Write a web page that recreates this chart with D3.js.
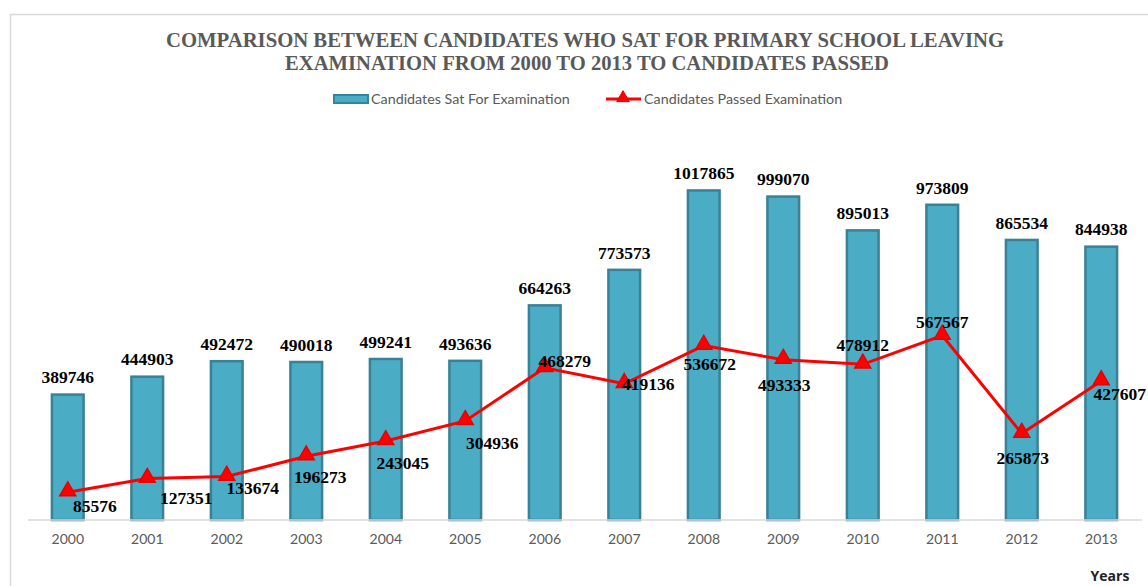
<!DOCTYPE html>
<html><head><meta charset="utf-8">
<script src="https://cdn.jsdelivr.net/npm/d3@7"></script>
<style>html,body{margin:0;padding:0;background:#fff;overflow:hidden}</style>
</head><body>
<svg id="chart" width="1148" height="586"></svg>
<script>
const years = ["2000","2001","2002","2003","2004","2005","2006","2007","2008","2009","2010","2011","2012","2013"];
const sat = [389746,444903,492472,490018,499241,493636,664263,773573,1017865,999070,895013,973809,865534,844938];
const passed = [85576,127351,133674,196273,243045,304936,468279,419136,536672,493333,478912,567567,265873,427607];
const seriesNames = ["Candidates Sat For Examination","Candidates Passed Examination"];
const titleLines = ["COMPARISON BETWEEN CANDIDATES WHO  SAT FOR PRIMARY SCHOOL  LEAVING","EXAMINATION  FROM 2000 TO 2013 TO CANDIDATES PASSED"];
const xAxisTitle = "Years";
// label placement offsets for line labels (layout only)
const lineLabelOffsets = [[27,14],[39,19],[26,11],[14,21],[17,22],[27,22],[20,-7],[24,0],[6,18],[1,25],[0,-19],[0,-14],[1,24],[null,13]];

const svg = d3.select("#chart");
// chart border
svg.append("path").attr("d","M10.5,586 V14.5 H1148").attr("fill","none").attr("stroke","#d9d9d9").attr("stroke-width",1.5);

const x = d3.scaleBand().domain(years).range([28,1141]).paddingInner(0.57).paddingOuter(0.285);
const y = d3.scaleLinear().domain([0,1200000]).range([520,130]);

// title
svg.append("text").attr("x",585).attr("y",47).attr("text-anchor","middle")
  .attr("font-family","Liberation Serif").attr("font-weight","bold").attr("font-size",20)
  .attr("fill","#595959").attr("textLength",838).attr("lengthAdjust","spacingAndGlyphs").text(titleLines[0]);
svg.append("text").attr("x",587).attr("y",70).attr("text-anchor","middle")
  .attr("font-family","Liberation Serif").attr("font-weight","bold").attr("font-size",20)
  .attr("fill","#595959").attr("textLength",604).attr("lengthAdjust","spacingAndGlyphs").text(titleLines[1]);

// legend
const lg = svg.append("g");
lg.append("rect").attr("x",334).attr("y",95).attr("width",34).attr("height",8)
  .attr("fill","#4bacc6").attr("stroke","#31859c").attr("stroke-width",2);
lg.append("text").attr("x",371).attr("y",104).attr("font-family","Lato").attr("font-size",14.3)
  .attr("fill","#595959").text(seriesNames[0]);
lg.append("line").attr("x1",606).attr("x2",641).attr("y1",99).attr("y2",99).attr("stroke","#ff0000").attr("stroke-width",3);
lg.append("path").attr("d",d3.symbol(d3.symbolTriangle,70)()).attr("transform","translate(623,98)")
  .attr("fill","#ff0000").attr("stroke","#ee0000");
lg.append("text").attr("x",644).attr("y",104).attr("font-family","Lato").attr("font-size",14.3)
  .attr("fill","#595959").text(seriesNames[1]);

// bars
svg.append("g").selectAll("rect").data(sat).join("rect")
  .attr("x",(d,i)=>x(years[i])+1.25).attr("y",d=>y(d)+1.25)
  .attr("width",x.bandwidth()-2.5).attr("height",d=>y(0)-y(d)-1.25)
  .attr("fill","#4bacc6").attr("stroke","#3a8196").attr("stroke-width",2.5);

// x axis
const xa = svg.append("g").attr("transform","translate(0,520)").call(d3.axisBottom(x).tickSize(0).tickPadding(14));
xa.select(".domain").attr("stroke","#d9d9d9").attr("stroke-width",1.5).attr("d","M28,0H1142");
xa.selectAll("text").attr("font-family","Lato").attr("font-size",14).attr("fill","#595959");
svg.append("text").attr("x",1110).attr("y",581).attr("text-anchor","middle")
  .attr("font-family","Open Sans").attr("font-weight","bold").attr("font-size",14).attr("fill","#222").text(xAxisTitle);

// bar labels
svg.append("g").selectAll("text").data(sat).join("text")
  .attr("x",(d,i)=>x(years[i])+x.bandwidth()/2).attr("y",d=>y(d)-10)
  .attr("text-anchor","middle").attr("font-family","Liberation Serif").attr("font-weight","bold")
  .attr("font-size",17.5).attr("fill","#000").text(d=>d);

// line
const cx = i => x(years[i])+x.bandwidth()/2;
svg.append("path").datum(passed)
  .attr("d",d3.line().x((d,i)=>cx(i)).y(d=>y(d)))
  .attr("fill","none").attr("stroke","#ff0000").attr("stroke-width",3);
svg.append("g").selectAll("path").data(passed).join("path")
  .attr("d",d3.symbol(d3.symbolTriangle,110)())
  .attr("transform",(d,i)=>`translate(${cx(i)},${y(d)-1})`)
  .attr("fill","#ff0000").attr("stroke","#e80000").attr("stroke-width",1.5);

// line labels
svg.append("g").selectAll("text").data(passed).join("text")
  .attr("x",(d,i)=> lineLabelOffsets[i][0]===null ? 1146 : cx(i)+lineLabelOffsets[i][0])
  .attr("y",(d,i)=>y(d)+lineLabelOffsets[i][1]+6)
  .attr("text-anchor",(d,i)=> lineLabelOffsets[i][0]===null ? "end" : "middle")
  .attr("font-family","Liberation Serif").attr("font-weight","bold")
  .attr("font-size",17.5).attr("fill","#000").text(d=>d);
</script>
</body></html>
